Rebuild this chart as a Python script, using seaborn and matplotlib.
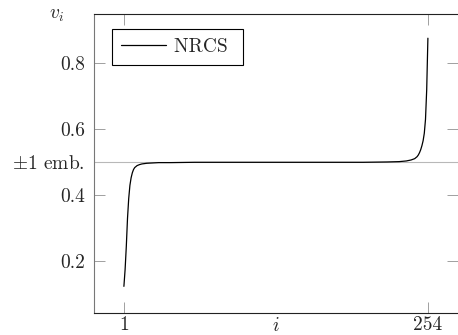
import seaborn as sns
import matplotlib.pyplot as plt
import pandas as pd

# values
index_i = [1, 2, 3, 4, 5, 6, 7, 8, 9, 10, 12, 14, 16, 20, 25, 30, 40, 60, 90, 128,
           170, 200, 220, 230, 236, 240, 243, 245, 246, 247, 248, 249, 250, 251, 252, 253, 254]
nrcs = [0.124, 0.175, 0.245, 0.33, 0.39, 0.43, 0.453, 0.468, 0.478, 0.484, 0.490, 0.493, 0.495,
        0.497, 0.498, 0.499, 0.499, 0.500, 0.500, 0.500,
        0.500, 0.500, 0.501, 0.502, 0.504, 0.507, 0.511, 0.517, 0.522, 0.529, 0.538, 0.550,
        0.565, 0.588, 0.630, 0.720, 0.876]

xticks = [1, 254]
xtick_labels = ['1', '254']
yticks = [0.2, 0.4, 0.5, 0.6, 0.8]
ytick_labels = ['0.2', '0.4', r'$\pm$1 emb.', '0.6', '0.8']
emb_level = 0.5

sns.set_style('ticks')
plt.rcParams['font.family'] = 'serif'
plt.rcParams['font.serif'] = ['cmr10', 'DejaVu Serif']
plt.rcParams['mathtext.fontset'] = 'cm'
plt.rcParams['axes.unicode_minus'] = False
plt.rcParams['font.size'] = 14

W, H = 458, 335
fig = plt.figure(figsize=(W / 100, H / 100), dpi=100)
# axes box in pixels: left, right, top, bottom
L, R, T, B = 93.5, 458.3, 13.5, 312.5
ax = fig.add_axes([L / W, 1 - B / H, (R - L) / W, (B - T) / H])

data = pd.DataFrame({'i': index_i, 'v': nrcs})
ax.axhline(emb_level, color='#b8b8b8', lw=0.8, zorder=1)
sns.lineplot(data=data, x='i', y='v', color='black', lw=0.9, estimator=None,
             label='NRCS', ax=ax, zorder=3)

ax.set_xlim(-24.3, 279.3)
ax.set_ylim(0.0448, 0.9509)
ax.set_xticks(xticks, xtick_labels)
ax.set_yticks(yticks, ytick_labels)
ax.set_xlabel('')
ax.set_ylabel('')

ax.tick_params(direction='in', length=8, width=0.7, color='#a0a0a0',
               top=True, right=True, labelsize=14)
ax.tick_params(axis='x', pad=2.5)
ax.tick_params(axis='y', pad=6)

for side in ['top', 'bottom']:
    ax.spines[side].set_color('#222222')
    ax.spines[side].set_linewidth(0.8)
ax.spines['right'].set_visible(False)
ax.spines['left'].set_color('#777777')
ax.spines['left'].set_linewidth(0.8)

leg = ax.legend(loc='upper left', bbox_to_anchor=(0.0516, 0.947), borderaxespad=0,
                fancybox=False, framealpha=1, edgecolor='black', borderpad=0.45,
                handlelength=2.3, handletextpad=0.43, fontsize=14)
leg.get_frame().set_linewidth(0.8)
leg.texts[0].set_text('NRCS ')

fig.text(57 / W, 1 - 15 / H, '$v_i$', ha='center', va='center', fontsize=14)
fig.text(276 / W, 1 - 326 / H, '$i$', ha='center', va='center', fontsize=14)

fig.savefig('out.png', dpi=100)
